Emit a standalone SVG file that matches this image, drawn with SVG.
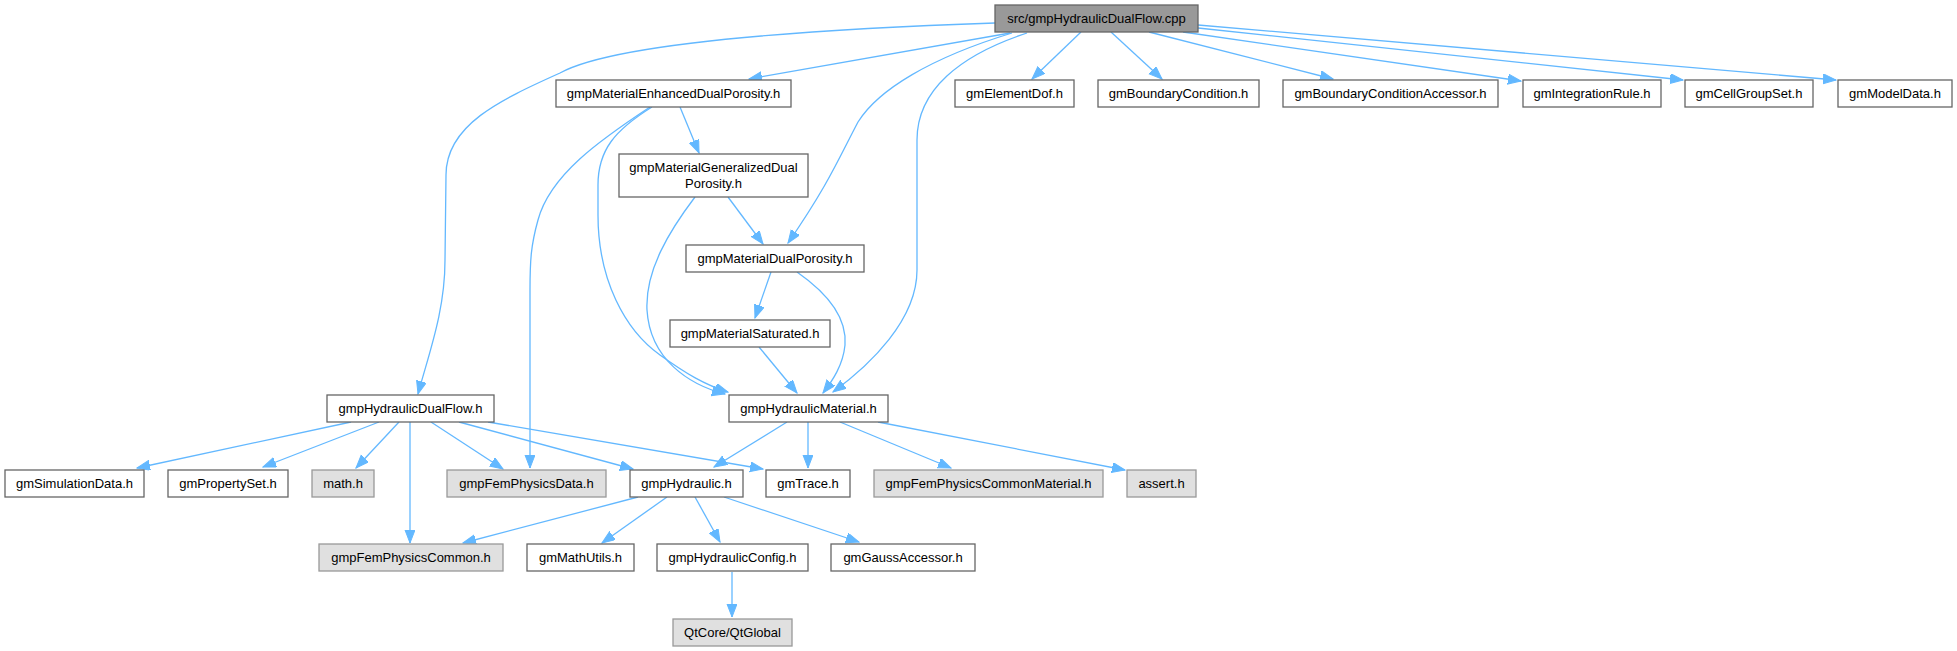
<svg xmlns="http://www.w3.org/2000/svg" width="1957" height="651" viewBox="0 0 1957 651">
<style>
rect{stroke-width:1.3}
.w rect{fill:#ffffff;stroke:#666666}
.x rect{fill:#e0e0e0;stroke:#999999}
.r rect{fill:#999999;stroke:#666666}
text{font-family:"Liberation Sans",Arial,sans-serif;font-size:13px;fill:#000000;text-anchor:middle}
#edges path{fill:none;stroke:#63b8ff;stroke-width:1.3;marker-end:url(#ah)}
</style>
<defs>
<marker id="ah" markerUnits="userSpaceOnUse" markerWidth="14" markerHeight="11" refX="13" refY="5" orient="auto">
<path d="M0,0 L13,5 L0,10 z" fill="#63b8ff" stroke="#63b8ff" stroke-width="1"/>
</marker>
</defs>
<rect width="1957" height="651" fill="#ffffff"/>
<g id="edges">
<path d="M995,23 C850,28 620,40 560,73 C500,100 446,125 446,175 L445,260 C445,310 430,350 418,394"/>
<path d="M1010,33 L749,79"/>
<path d="M1012,33 C930,58 878,90 858,122 C838,160 828,185 788,243"/>
<path d="M1027,33 C960,55 917,90 917,140 L917,270 C917,320 870,365 833,392"/>
<path d="M1081,32 L1032,79"/>
<path d="M1111,32 L1162,79"/>
<path d="M1149,32 L1333,79"/>
<path d="M1183,32 L1521,81"/>
<path d="M1198,28 L1683,80"/>
<path d="M1198,25 L1836,80"/>
<path d="M680,107 L699,153"/>
<path d="M650,107 C600,140 550,175 538,220 C531,245 530,260 530,290 L530,468"/>
<path d="M652,107 C615,130 598,150 598,185 L598,215 C598,280 625,330 660,355 C685,373 705,385 728,392"/>
<path d="M728,197 L763,244"/>
<path d="M695,197 C670,230 645,270 647,310 C650,360 690,385 725,394"/>
<path d="M771,272 L755,318"/>
<path d="M797,272 C830,295 847,320 845,345 C843,365 833,380 823,393"/>
<path d="M759,347 L797,393"/>
<path d="M351,422 L137,468"/>
<path d="M379,422 L263,467"/>
<path d="M399,422 L356,468"/>
<path d="M410,422 L410,543"/>
<path d="M431,422 L503,469"/>
<path d="M459,422 L633,469"/>
<path d="M488,422 L763,469"/>
<path d="M787,422 L714,467"/>
<path d="M808,422 L808,468"/>
<path d="M840,422 L951,468"/>
<path d="M878,422 L1125,470"/>
<path d="M638,497 L463,543"/>
<path d="M667,497 L602,543"/>
<path d="M695,497 L720,542"/>
<path d="M724,497 L859,542"/>
<path d="M732,572 L732,617"/>
</g>
<g id="root" class="r"><rect x="995" y="5" width="203" height="27"/><text x="1096.5" y="23">src/gmpHydraulicDualFlow.cpp</text></g>
<g id="enh" class="w"><rect x="556" y="80" width="235" height="27"/><text x="673.5" y="98">gmpMaterialEnhancedDualPorosity.h</text></g>
<g id="elemdof" class="w"><rect x="955" y="80" width="119" height="27"/><text x="1014.5" y="98">gmElementDof.h</text></g>
<g id="bc" class="w"><rect x="1098" y="80" width="161" height="27"/><text x="1178.5" y="98">gmBoundaryCondition.h</text></g>
<g id="bca" class="w"><rect x="1283" y="80" width="215" height="27"/><text x="1390.5" y="98">gmBoundaryConditionAccessor.h</text></g>
<g id="ir" class="w"><rect x="1523" y="80" width="138" height="27"/><text x="1592" y="98">gmIntegrationRule.h</text></g>
<g id="cgs" class="w"><rect x="1685" y="80" width="128" height="27"/><text x="1749" y="98">gmCellGroupSet.h</text></g>
<g id="md" class="w"><rect x="1838" y="80" width="114" height="27"/><text x="1895" y="98">gmModelData.h</text></g>
<g id="gen" class="w"><rect x="619" y="154" width="189" height="43"/><text x="713.5" y="172">gmpMaterialGeneralizedDual</text><text x="713.5" y="187.5">Porosity.h</text></g>
<g id="dp" class="w"><rect x="686" y="245" width="178" height="27"/><text x="775" y="263">gmpMaterialDualPorosity.h</text></g>
<g id="sat" class="w"><rect x="670" y="320" width="160" height="27"/><text x="750" y="338">gmpMaterialSaturated.h</text></g>
<g id="hm" class="w"><rect x="729" y="395" width="159" height="27"/><text x="808.5" y="413">gmpHydraulicMaterial.h</text></g>
<g id="df" class="w"><rect x="327" y="395" width="167" height="27"/><text x="410.5" y="413">gmpHydraulicDualFlow.h</text></g>
<g id="sim" class="w"><rect x="5" y="470" width="139" height="27"/><text x="74.5" y="488">gmSimulationData.h</text></g>
<g id="ps" class="w"><rect x="168" y="470" width="120" height="27"/><text x="228" y="488">gmPropertySet.h</text></g>
<g id="math" class="x"><rect x="312" y="470" width="62" height="27"/><text x="343" y="488">math.h</text></g>
<g id="fpd" class="x"><rect x="447" y="470" width="159" height="27"/><text x="526.5" y="488">gmpFemPhysicsData.h</text></g>
<g id="hyd" class="w"><rect x="630" y="470" width="113" height="27"/><text x="686.5" y="488">gmpHydraulic.h</text></g>
<g id="trace" class="w"><rect x="766" y="470" width="84" height="27"/><text x="808" y="488">gmTrace.h</text></g>
<g id="fpcm" class="x"><rect x="874" y="470" width="229" height="27"/><text x="988.5" y="488">gmpFemPhysicsCommonMaterial.h</text></g>
<g id="assert" class="x"><rect x="1127" y="470" width="69" height="27"/><text x="1161.5" y="488">assert.h</text></g>
<g id="fpc" class="x"><rect x="319" y="544" width="184" height="27"/><text x="411" y="562">gmpFemPhysicsCommon.h</text></g>
<g id="mu" class="w"><rect x="527" y="544" width="107" height="27"/><text x="580.5" y="562">gmMathUtils.h</text></g>
<g id="hc" class="w"><rect x="657" y="544" width="151" height="27"/><text x="732.5" y="562">gmpHydraulicConfig.h</text></g>
<g id="ga" class="w"><rect x="831" y="544" width="144" height="27"/><text x="903" y="562">gmGaussAccessor.h</text></g>
<g id="qt" class="x"><rect x="673" y="619" width="119" height="27"/><text x="732.5" y="637">QtCore/QtGlobal</text></g>
</svg>
